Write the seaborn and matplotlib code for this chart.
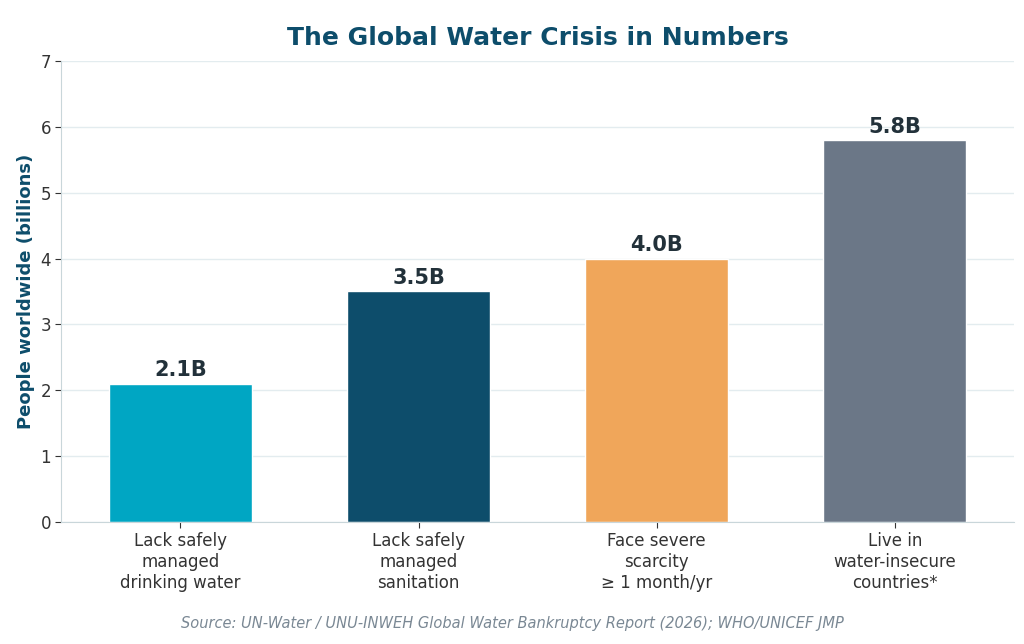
import numpy as np
import matplotlib.pyplot as plt
import seaborn as sns
import pandas as pd

categories = ["Lack safely\nmanaged\ndrinking water", "Lack safely\nmanaged\nsanitation",
              "Face severe\nscarcity\n≥ 1 month/yr", "Live in\nwater-insecure\ncountries*"]
values = [2.1, 3.5, 4.0, 5.8]
labels = ["2.1B", "3.5B", "4.0B", "5.8B"]
colors = ["#00a6c3", "#0d4d6b", "#f0a65a", "#6b7787"]

sns.set_style("whitegrid")
plt.rcParams['font.family'] = ['DejaVu Sans']

df = pd.DataFrame({"cat": categories, "val": values})
fig, ax = plt.subplots(figsize=(10.24, 6.44), dpi=100)
sns.barplot(data=df, x="cat", y="val", hue="cat", palette=colors, legend=False,
            width=0.6, ax=ax, saturation=1)
for i, (v, t) in enumerate(zip(values, labels)):
    ax.text(i, v + 0.05, t, ha="center", va="bottom", fontsize=15, fontweight="bold", color="#22313a")

ax.set_ylim(0, 7)
ax.set_yticks(range(8))
ax.grid(axis="x", visible=False)
ax.grid(axis="y", color="#e3ecef", lw=1)
ax.set_xlabel("")
ax.set_ylabel("People worldwide (billions)", fontsize=13, fontweight="bold", color="#0d4d6b")
ax.set_title("The Global Water Crisis in Numbers", fontsize=18, fontweight="bold", color="#0d4d6b", pad=12)
ax.tick_params(axis="both", labelsize=12, colors="#333333", length=4, left=True, bottom=True)
for s in ["top", "right"]:
    ax.spines[s].set_visible(False)
for s in ["left", "bottom"]:
    ax.spines[s].set_color("#c9d6da")
fig.text(0.5, 0.025, "Source: UN-Water / UNU-INWEH Global Water Bankruptcy Report (2026); WHO/UNICEF JMP",
         ha="center", fontsize=10.5, style="italic", color="#7a8894")
plt.subplots_adjust(left=0.06, right=0.99, top=0.905, bottom=0.19)
plt.savefig("out.png", dpi=100)
